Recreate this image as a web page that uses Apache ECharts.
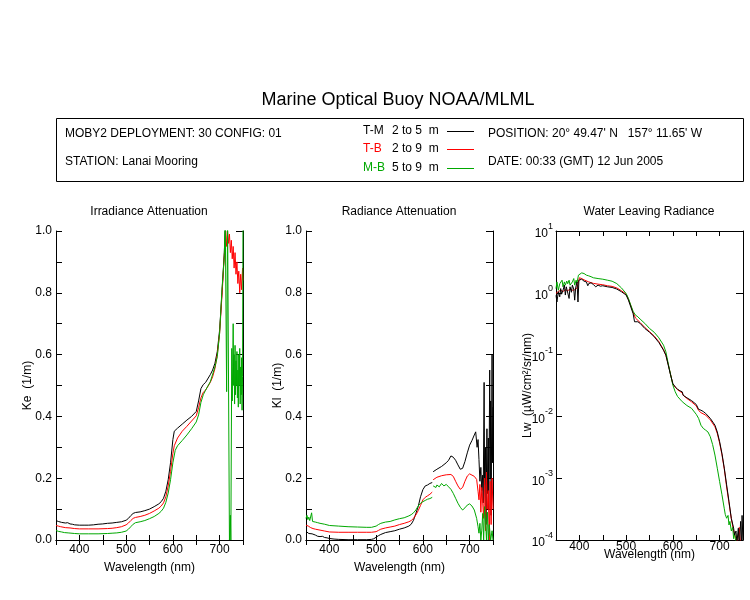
<!DOCTYPE html>
<html>
<head>
<meta charset="utf-8">
<title>Marine Optical Buoy NOAA/MLML</title>
<script src="https://cdn.jsdelivr.net/npm/echarts@6/dist/echarts.min.js"></script>
<style>
  html, body { margin: 0; padding: 0; background: #fff; }
  #chart { width: 750px; height: 600px; }
</style>
</head>
<body>
<div id="chart"></div>
<script>
// wavelength (nm) / value pairs
// Irradiance attenuation Ke (1/m)
const keTM = [[350,0.063],[355,0.060],[358,0.062],[362,0.057],[366,0.059],[370,0.055],[375,0.056],[380,0.052],[385,0.051],[390,0.049],[400,0.048],[410,0.048],[420,0.048],[430,0.049],[440,0.051],[450,0.052],[460,0.054],[470,0.055],[480,0.057],[490,0.059],[500,0.064],[505,0.070],[510,0.079],[515,0.086],[520,0.089],[530,0.091],[540,0.095],[550,0.100],[560,0.108],[570,0.117],[575,0.124],[580,0.135],[585,0.158],[590,0.195],[595,0.250],[600,0.325],[603,0.352],[610,0.362],[620,0.375],[630,0.388],[640,0.400],[650,0.416],[655,0.450],[660,0.490],[665,0.503],[670,0.510],[680,0.535],[685,0.550],[690,0.572],[695,0.610],[700,0.680],[705,0.800],[710,0.930],[713,1.05],[716,1.2],[720,1.3],[730,1.4],[740,1.5],[750,1.5]];
const keTB = [[350,0.047],[355,0.045],[360,0.043],[370,0.040],[380,0.039],[390,0.037],[400,0.036],[420,0.036],[440,0.036],[460,0.037],[470,0.038],[480,0.040],[490,0.043],[500,0.049],[505,0.055],[510,0.063],[515,0.070],[520,0.073],[530,0.076],[540,0.080],[550,0.086],[560,0.094],[570,0.103],[575,0.110],[580,0.120],[585,0.140],[590,0.175],[595,0.222],[600,0.280],[603,0.305],[610,0.330],[620,0.352],[630,0.368],[640,0.385],[650,0.402],[655,0.428],[660,0.460],[665,0.478],[670,0.485],[680,0.510],[685,0.528],[690,0.555],[695,0.600],[700,0.670],[705,0.790],[710,0.920],[713,1.0],[715,0.95],[717,1.0],[719,0.96],[721,0.99],[723,0.93],[725,0.97],[727,0.91],[729,0.95],[731,0.88],[733,0.93],[735,0.86],[737,0.90],[739,0.83],[741,0.87],[743,0.80],[745,0.86],[747,0.81],[749,0.88],[750,0.84]];
const keMB = [[350,0.031],[352,0.033],[355,0.028],[358,0.031],[362,0.026],[365,0.029],[368,0.024],[372,0.027],[376,0.023],[380,0.023],[390,0.021],[400,0.020],[420,0.020],[440,0.020],[460,0.021],[470,0.022],[480,0.023],[490,0.025],[500,0.029],[505,0.035],[510,0.043],[515,0.051],[520,0.056],[530,0.059],[540,0.063],[550,0.069],[560,0.076],[570,0.086],[575,0.093],[580,0.103],[585,0.122],[590,0.152],[595,0.195],[600,0.250],[605,0.290],[610,0.305],[620,0.322],[630,0.340],[640,0.360],[650,0.382],[655,0.405],[660,0.445],[665,0.470],[670,0.485],[680,0.512],[690,0.560],[695,0.593],[700,0.670],[705,0.810],[710,0.920],[712,1.05],[714,1.05],[715,0.48],[717,1.05],[719,1.05],[721,0.0],[723,0.08],[724,0.0],[726,0.62],[727,0.45],[728,0.56],[729,0.70],[730,0.50],[731,0.60],[732,0.44],[733,0.63],[734,0.47],[735,0.58],[736,0.50],[737,0.61],[738,0.46],[739,0.55],[740,0.43],[741,0.60],[742,0.50],[743,0.62],[744,0.44],[745,0.56],[746,0.47],[747,0.59],[748,0.42],[749,0.53],[750,1.05]];

// Radiance attenuation Kl (1/m)
const klTM = [[350,0.028],[352,0.024],[354,0.027],[356,0.021],[358,0.024],[360,0.017],[363,0.020],[366,0.014],[370,0.016],[375,0.012],[380,0.011],[385,0.012],[390,0.008],[395,0.007],[400,0.005],[410,0.003],[420,0.002],[440,0.001],[460,0.001],[480,0.001],[490,0.002],[495,0.004],[500,0.009],[505,0.014],[510,0.018],[520,0.024],[530,0.027],[540,0.030],[550,0.035],[560,0.039],[570,0.045],[575,0.051],[580,0.064],[585,0.086],[590,0.108],[595,0.140],[600,0.163],[605,0.175],[610,0.178],[615,0.183],[620,0.186],[621,null],[622,0.221],[630,0.229],[640,0.238],[650,0.250],[655,0.258],[660,0.272],[665,0.268],[670,0.258],[675,0.243],[680,0.229],[685,0.232],[690,0.254],[695,0.282],[700,0.307],[705,0.322],[710,0.340],[713,0.350],[716,0.300],[718,0.325],[720,0.260],[722,0.190],[724,0.235],[726,0.160],[728,0.210],[729,0.120],[731,0.510],[732,0.180],[734,0.300],[735,0.050],[737,0.360],[738,0.150],[740,0.330],[741,0.100],[743,0.550],[744,0.200],[745,0.450],[746,0.080],[748,0.600],[749,0.250],[750,0.430]];
const klTB = [[350,0.048],[352,0.043],[355,0.045],[358,0.040],[360,0.040],[365,0.037],[370,0.035],[380,0.032],[390,0.029],[400,0.026],[420,0.025],[440,0.025],[460,0.025],[480,0.025],[490,0.025],[500,0.027],[505,0.031],[510,0.035],[520,0.039],[530,0.042],[540,0.045],[550,0.050],[560,0.054],[570,0.059],[575,0.063],[580,0.070],[585,0.081],[590,0.095],[595,0.112],[600,0.130],[605,0.138],[610,0.143],[615,0.148],[620,0.155],[621,null],[622,0.195],[630,0.203],[640,0.208],[650,0.211],[660,0.212],[665,0.206],[670,0.190],[675,0.175],[680,0.164],[685,0.170],[690,0.190],[695,0.207],[700,0.214],[705,0.210],[710,0.206],[715,0.196],[718,0.158],[720,0.130],[722,0.180],[724,0.090],[726,0.170],[728,0.120],[730,0.070],[732,0.200],[734,0.030],[736,0.220],[738,0.100],[740,0.160],[742,0.000],[744,0.190],[746,0.050],[748,0.200],[750,0.100]];
const klMB = [[350,0.070],[352,0.080],[354,0.066],[356,0.074],[358,0.063],[360,0.066],[362,0.088],[364,0.060],[366,0.064],[370,0.058],[375,0.056],[380,0.054],[390,0.051],[400,0.047],[420,0.045],[440,0.043],[460,0.042],[480,0.041],[490,0.041],[500,0.045],[505,0.050],[510,0.054],[520,0.058],[530,0.060],[540,0.065],[550,0.069],[560,0.072],[570,0.078],[575,0.082],[580,0.088],[585,0.097],[590,0.110],[595,0.119],[600,0.124],[605,0.128],[610,0.132],[615,0.134],[620,0.138],[621,null],[622,0.175],[628,0.170],[630,0.178],[635,0.172],[640,0.183],[645,0.175],[650,0.180],[655,0.172],[660,0.164],[665,0.151],[670,0.135],[675,0.119],[680,0.106],[685,0.097],[690,0.104],[695,0.113],[700,0.117],[705,0.110],[710,0.097],[715,0.070],[718,0.043],[720,0.022],[722,0.054],[724,0.000],[726,0.032],[728,0.086],[730,0.000],[732,0.108],[734,0.065],[736,0.000],[738,0.090],[740,0.000],[742,0.050],[745,0.000],[748,0.030],[750,0.000]];

// Water leaving radiance Lw (uW/cm^2/sr/nm)
const lwTM = [[350,0.91],[352,0.71],[355,1.04],[358,0.86],[360,1.17],[362,0.95],[365,1.10],[368,1.33],[370,0.92],[372,1.25],[375,1.17],[378,0.81],[380,1.25],[383,1.02],[385,1.33],[388,1.15],[390,0.76],[392,1.20],[395,1.50],[397,0.71],[399,1.60],[400,1.70],[405,1.66],[410,1.54],[415,1.50],[418,1.30],[420,1.41],[425,1.45],[430,1.36],[435,1.25],[440,1.33],[445,1.28],[450,1.30],[460,1.25],[470,1.22],[480,1.15],[490,1.04],[500,0.92],[505,0.76],[510,0.59],[515,0.46],[518,0.34],[520,0.36],[525,0.34],[530,0.32],[540,0.265],[550,0.23],[560,0.195],[570,0.157],[580,0.118],[585,0.098],[590,0.068],[595,0.047],[600,0.034],[605,0.030],[610,0.0276],[615,0.026],[620,0.025],[622,0.022],[630,0.020],[640,0.018],[650,0.0156],[655,0.013],[660,0.0126],[665,0.0120],[670,0.0112],[680,0.0093],[690,0.0072],[695,0.0056],[700,0.0039],[705,0.0025],[710,0.00145],[715,0.00078],[720,0.00042],[725,0.000224],[730,0.000155],[732,0.00012],[735,0.00014],[737,0.00009],[740,0.000155],[742,0.00008],[745,0.00020],[747,0.00008],[748,0.00025],[750,0.00009]];
const lwTB = [[350,0.98],[355,1.05],[360,1.10],[365,1.05],[370,1.12],[375,1.08],[380,1.15],[385,1.10],[390,1.12],[395,1.20],[398,1.15],[400,1.75],[405,1.70],[410,1.62],[420,1.50],[430,1.42],[440,1.38],[450,1.35],[460,1.30],[470,1.27],[480,1.20],[490,1.08],[500,0.95],[505,0.78],[510,0.62],[515,0.48],[520,0.39],[530,0.33],[540,0.275],[550,0.235],[560,0.20],[570,0.162],[580,0.12],[585,0.098],[590,0.07],[595,0.048],[600,0.033],[610,0.027],[620,0.024],[622,0.022],[630,0.0195],[640,0.0172],[650,0.0148],[655,0.0125],[660,0.0115],[670,0.0105],[680,0.0088],[690,0.0068],[695,0.0053],[700,0.0037],[705,0.0024],[710,0.0014],[715,0.00072],[720,0.00040],[725,0.00022],[730,0.00014],[735,0.000105],[738,0.00009],[742,0.00016],[745,0.00008],[750,0.00009]];
const lwMB = [[350,1.17],[352,1.50],[355,1.10],[358,1.40],[360,1.33],[363,1.60],[365,1.25],[368,1.50],[370,1.33],[373,1.55],[375,1.40],[378,1.60],[380,1.33],[385,1.50],[388,1.70],[390,1.33],[393,1.60],[395,1.45],[398,1.93],[400,2.05],[405,2.10],[410,2.05],[415,1.93],[420,1.88],[425,1.82],[430,1.75],[440,1.70],[450,1.66],[460,1.60],[470,1.54],[480,1.41],[490,1.20],[500,0.975],[505,0.81],[510,0.63],[515,0.50],[520,0.435],[525,0.41],[530,0.375],[540,0.32],[550,0.265],[560,0.23],[570,0.187],[580,0.142],[585,0.111],[590,0.072],[595,0.048],[600,0.032],[605,0.025],[610,0.021],[620,0.0173],[630,0.015],[640,0.0135],[650,0.0108],[655,0.0093],[660,0.0072],[665,0.0064],[670,0.0060],[675,0.0056],[680,0.0047],[685,0.0035],[690,0.00237],[695,0.00145],[700,0.00088],[705,0.00054],[710,0.00032],[712,0.00026],[715,0.000225],[718,0.00025],[720,0.000175],[722,0.00020],[725,0.00014],[728,0.00016],[730,0.000105],[732,0.00013],[735,0.00009],[738,0.00008]];

const panelTitles = ['Irradiance Attenuation', 'Radiance Attenuation', 'Water Leaving Radiance'];
const yNames = ['Ke  (1/m)', 'Kl  (1/m)', 'Lw  (\u00b5W/cm\u00b2/sr/nm)'];
const pairLabels = ['T-M', 'T-B', 'M-B'];
const pairDepths = ['2 to 5  m', '2 to 9  m', '5 to 9  m'];
const colors = ['#000000', '#ff0000', '#00a800'];

const FONT = '"Liberation Sans", Arial, sans-serif';
const panelLeft = [56, 306, 556];

let chart = echarts.init(document.getElementById('chart'), null, {renderer: 'canvas'});

let grid = [], xAxis = [], yAxis = [], series = [];
panelLeft.forEach(function (left, i) {
  grid.push({left: left, top: 231, width: 187, height: 309, show: false});
  let isLog = i === 2;
  let xBase = {
    type: 'value', gridIndex: i, min: 350, max: 750, interval: 50,
    axisLine: {lineStyle: {color: '#000', width: 1}},
    axisTick: {inside: true, length: 5, lineStyle: {color: '#000'}},
    splitLine: {show: false}
  };
  xAxis.push(Object.assign({}, xBase, {
    position: 'bottom',
    axisLabel: {
      color: '#000', fontSize: 12, fontFamily: FONT, margin: isLog ? 1 : 4,
      formatter: function (v) { return (v % 100 === 0) ? String(v) : ''; }
    },
    name: 'Wavelength (nm)', nameLocation: 'middle', nameGap: isLog ? 9 : 22,
    nameMoveOverlap: false,
    nameTextStyle: {color: '#000', fontSize: 12, fontFamily: FONT}
  }));
  xAxis.push(Object.assign({}, xBase, {position: 'top', axisLabel: {show: false}}));

  let yBase = isLog ? {
    type: 'log', logBase: 10, min: 0.0001, max: 10, gridIndex: i
  } : {
    type: 'value', min: 0, max: 1, interval: 0.1, gridIndex: i
  };
  Object.assign(yBase, {
    axisLine: {lineStyle: {color: '#000', width: 1}},
    splitLine: {show: false},
    minorTick: {show: false}
  });
  yAxis.push(Object.assign({}, yBase, {
    position: 'left',
    axisTick: {inside: true, length: 6, lineStyle: {color: '#000'}},
    axisLabel: isLog ? {
      color: '#000', margin: 3,
      formatter: function (v) {
        let e = Math.round(Math.log(v) / Math.LN10);
        return '{b|10}{s|' + e + '}';
      },
      rich: {
        b: {fontSize: 12, fontFamily: FONT, color: '#000', lineHeight: 18, verticalAlign: 'bottom'},
        s: {fontSize: 9, fontFamily: FONT, color: '#000', lineHeight: 18, verticalAlign: 'top'}
      }
    } : {
      color: '#000', fontSize: 12, fontFamily: FONT, margin: 4,
      formatter: function (v) {
        return Math.round(v * 10) % 2 === 0 ? v.toFixed(1) : '';
      }
    },
    name: yNames[i], nameLocation: 'middle', nameGap: 22,
    nameMoveOverlap: false,
    nameTextStyle: {color: '#000', fontSize: 12, fontFamily: FONT}
  }));
  yAxis.push(Object.assign({}, yBase, {
    position: 'right',
    axisTick: {inside: true, length: 7, lineStyle: {color: '#000'}},
    axisLabel: {show: false}
  }));
});

const panelData = [[keTM, keTB, keMB], [klTM, klTB, klMB], [lwTB, lwMB, lwTM]];
const panelColors = [[0, 1, 2], [0, 1, 2], [1, 2, 0]];
panelData.forEach(function (list, i) {
  list.forEach(function (d, k) {
    let c = colors[panelColors[i][k]];
    series.push({
      type: 'line', xAxisIndex: 2 * i, yAxisIndex: 2 * i,
      data: d, showSymbol: false, symbol: 'none', connectNulls: false,
      clip: true, silent: true,
      lineStyle: {color: c, width: 1}, itemStyle: {color: c}
    });
  });
});

// header: title, info box and line key
let graphic = [
  {type: 'text', x: 398, y: 100, style: {text: 'Marine Optical Buoy NOAA/MLML', font: '18px ' + FONT, fill: '#000', textAlign: 'center', textVerticalAlign: 'middle'}},
  {type: 'rect', shape: {x: 56.5, y: 118.5, width: 687, height: 63}, style: {fill: 'none', stroke: '#000', lineWidth: 1}},
  {type: 'text', x: 65, y: 134, style: {text: 'MOBY2 DEPLOYMENT: 30 CONFIG: 01', font: '12px ' + FONT, fill: '#000', textVerticalAlign: 'middle'}},
  {type: 'text', x: 65, y: 162, style: {text: 'STATION: Lanai Mooring', font: '12px ' + FONT, fill: '#000', textVerticalAlign: 'middle'}},
  {type: 'text', x: 488, y: 134, style: {text: "POSITION: 20\u00b0 49.47' N   157\u00b0 11.65' W", font: '12px ' + FONT, fill: '#000', textVerticalAlign: 'middle'}},
  {type: 'text', x: 488, y: 162, style: {text: 'DATE: 00:33 (GMT) 12 Jun 2005', font: '12px ' + FONT, fill: '#000', textVerticalAlign: 'middle'}}
];
const keyY = [131, 149, 168];
pairLabels.forEach(function (lab, k) {
  graphic.push({type: 'text', x: 363, y: keyY[k], style: {text: lab, font: '12px ' + FONT, fill: colors[k], textVerticalAlign: 'middle'}});
  graphic.push({type: 'text', x: 392, y: keyY[k], style: {text: pairDepths[k], font: '12px ' + FONT, fill: '#000', textVerticalAlign: 'middle'}});
  graphic.push({type: 'line', shape: {x1: 447, y1: keyY[k] + 0.5, x2: 474, y2: keyY[k] + 0.5}, style: {stroke: colors[k], lineWidth: 1}});
});
panelTitles.forEach(function (t, i) {
  graphic.push({type: 'text', x: panelLeft[i] + 93, y: 212, style: {text: t, font: '12px ' + FONT, fill: '#000', textAlign: 'center', textVerticalAlign: 'middle'}});
});

chart.setOption({
  animation: false,
  backgroundColor: '#ffffff',
  grid: grid,
  xAxis: xAxis,
  yAxis: yAxis,
  series: series,
  graphic: graphic
});
</script>
</body>
</html>
